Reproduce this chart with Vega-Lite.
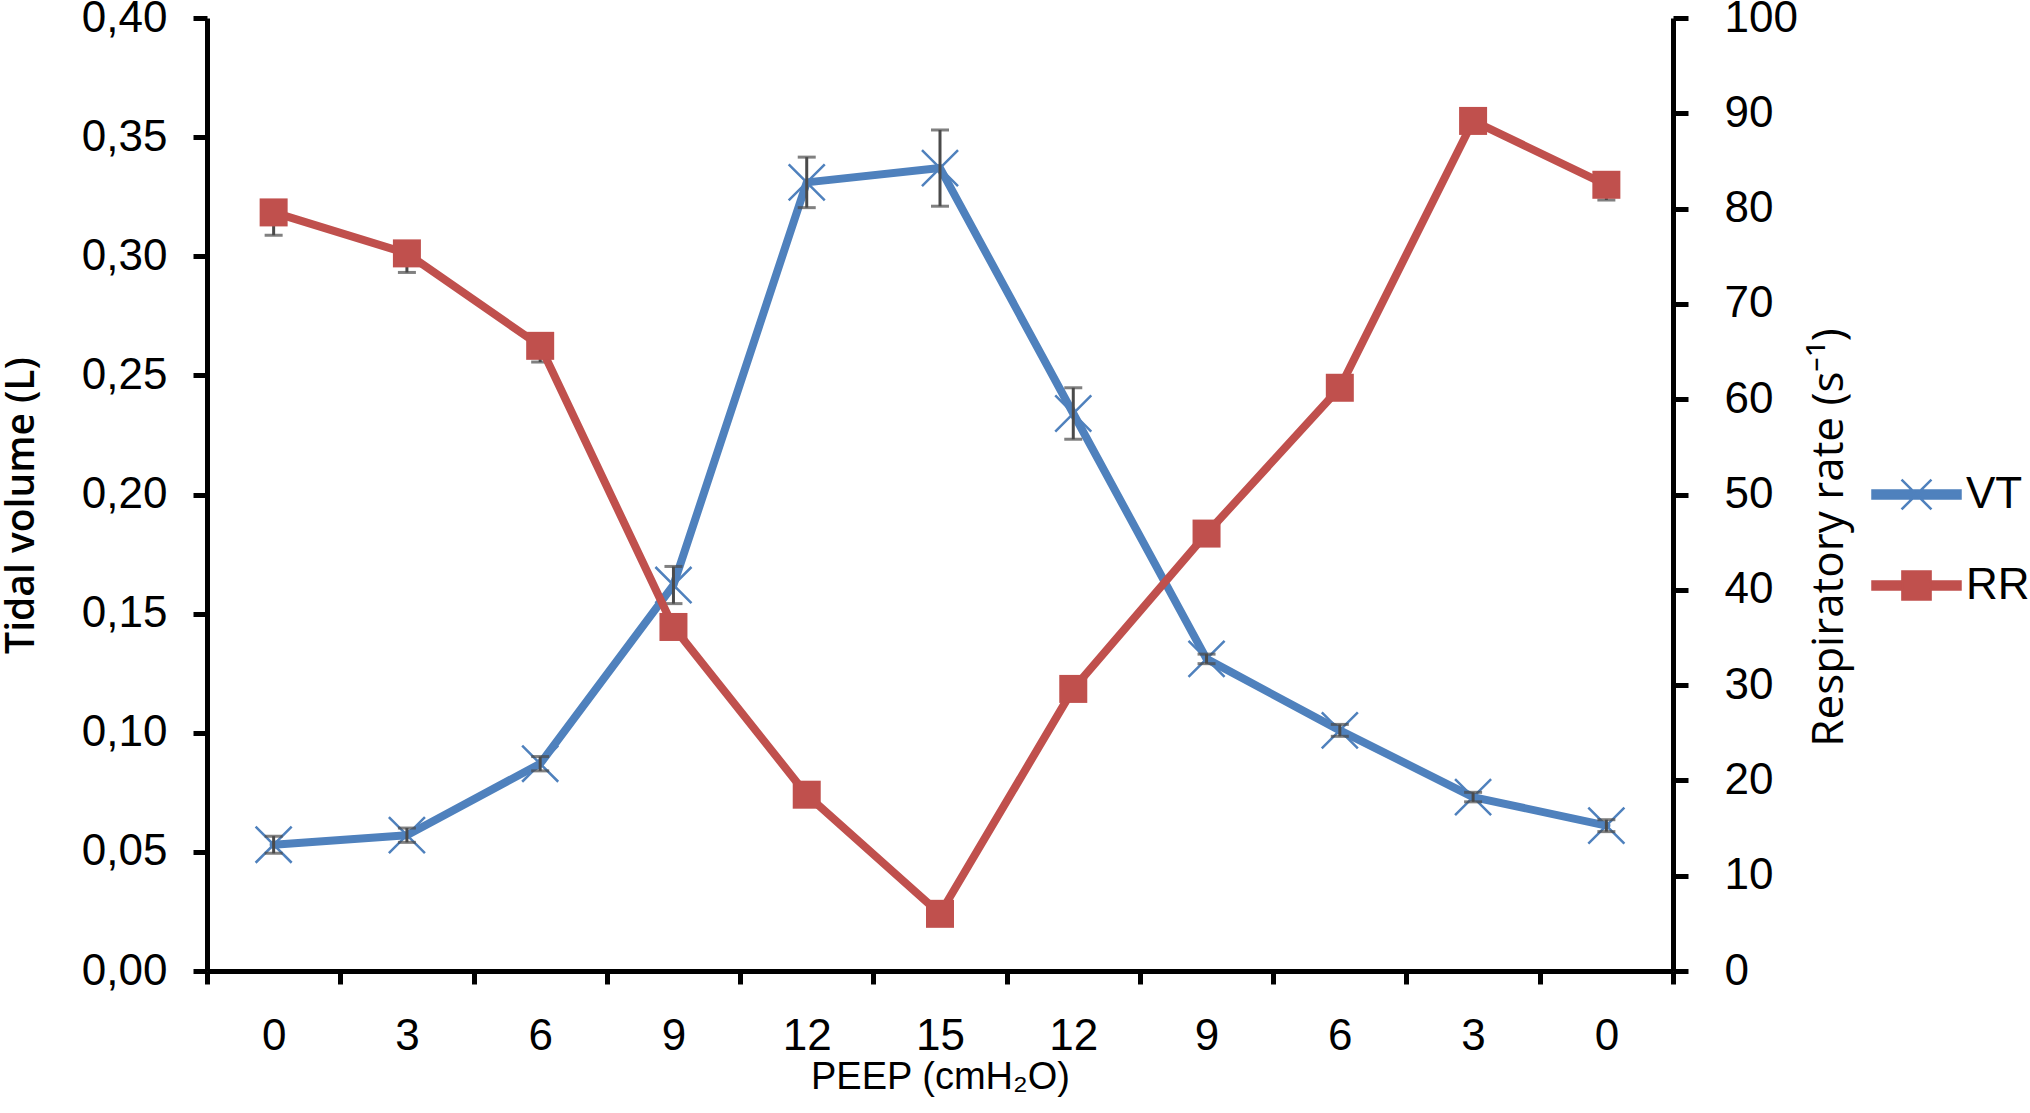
{
  "$schema": "https://vega.github.io/schema/vega-lite/v6.json",
  "width": 1466,
  "height": 953,
  "autosize": {"type": "none"},
  "padding": {"left": 207, "top": 18, "right": 357, "bottom": 142},
  "background": "white",
  "config": {
    "view": {"stroke": null},
    "axis": {
      "grid": false,
      "domainColor": "black",
      "domainWidth": 5,
      "tickColor": "black",
      "tickWidth": 5,
      "labelFont": "Liberation Sans",
      "labelFontSize": 44,
      "labelColor": "black",
      "titleColor": "black"
    }
  },
  "data": {
    "values": [
      {"step": 0, "peep": 0, "vt": 0.053, "vt_err": 0.0036, "rr": 79.6, "rr_lo": 77.2},
      {"step": 1, "peep": 3, "vt": 0.057, "vt_err": 0.003, "rr": 75.3, "rr_lo": 73.3},
      {"step": 2, "peep": 6, "vt": 0.087, "vt_err": 0.003, "rr": 65.6, "rr_lo": 63.9},
      {"step": 3, "peep": 9, "vt": 0.162, "vt_err": 0.0078, "rr": 36.1, "rr_lo": 34.9},
      {"step": 4, "peep": 12, "vt": 0.331, "vt_err": 0.0106, "rr": 18.5, "rr_lo": 17.5},
      {"step": 5, "peep": 15, "vt": 0.337, "vt_err": 0.016, "rr": 6.0, "rr_lo": 5.0},
      {"step": 6, "peep": 12, "vt": 0.234, "vt_err": 0.0108, "rr": 29.6, "rr_lo": 28.6},
      {"step": 7, "peep": 9, "vt": 0.131, "vt_err": 0.002, "rr": 45.9, "rr_lo": 44.9},
      {"step": 8, "peep": 6, "vt": 0.101, "vt_err": 0.0025, "rr": 61.2, "rr_lo": 60.2},
      {"step": 9, "peep": 3, "vt": 0.073, "vt_err": 0.002, "rr": 89.2, "rr_lo": 88.2},
      {"step": 10, "peep": 0, "vt": 0.061, "vt_err": 0.0025, "rr": 82.5, "rr_lo": 80.9}
    ]
  },
  "encoding": {
    "x": {
      "field": "step",
      "type": "ordinal",
      "scale": {"type": "band", "paddingInner": 0, "paddingOuter": 0},
      "axis": {
        "title": "PEEP (cmH₂O)",
        "labelExpr": "['0','3','6','9','12','15','12','9','6','3','0'][datum.value]",
        "labelAngle": 0,
        "tickBand": "extent",
        "tickSize": 13,
        "labelPadding": 30,
        "titleFont": "Liberation Sans",
        "titleFontSize": 38,
        "titleFontWeight": "normal",
        "titlePadding": 0
      }
    }
  },
  "layer": [
    {
      "encoding": {
        "y": {
          "field": "vt",
          "type": "quantitative",
          "scale": {"domain": [0, 0.4], "nice": false, "zero": true},
          "axis": {
            "orient": "left",
            "title": "Tidal volume (L)",
            "values": [0, 0.05, 0.1, 0.15, 0.2, 0.25, 0.3, 0.35, 0.4],
            "labelExpr": "replace(format(datum.value, '.2f'), '.', ',')",
            "tickSize": 14,
            "labelPadding": 26,
            "titleFont": "Open Sans",
            "titleFontSize": 39,
            "titleFontWeight": 600,
            "titlePadding": 40,
            "titleY": 487
          }
        }
      },
      "layer": [
        {
          "mark": {"type": "line", "strokeWidth": 8, "strokeJoin": "round", "strokeCap": "round"},
          "encoding": {
            "color": {
              "datum": "VT",
              "scale": {"domain": ["VT", "RR"], "range": ["#4F81BD", "#C0504D"]},
              "legend": {
                "orient": "none",
                "legendX": 1664,
                "legendY": 431,
                "title": null,
                "padding": 0,
                "symbolSize": 7744,
                "labelFont": "Liberation Sans",
                "labelFontSize": 44,
                "labelColor": "black",
                "labelOffset": 4,
                "rowPadding": 23,
                "labelBaseline": "middle",
                "encode": {
                  "symbols": {
                    "update": {
                      "shape": {"signal": "datum.value === 'VT' ? 'M-1,-0.09H1V0.09H-1Z M-0.34,-0.34L0.34,0.34 M-0.34,0.34L0.34,-0.34' : 'M-1,-0.09H1V0.09H-1Z M-0.32,-0.32H0.32V0.32H-0.32Z'"},
                      "fill": {"signal": "datum.value === 'VT' ? '#4F81BD' : '#C0504D'"},
                      "stroke": {"signal": "datum.value === 'VT' ? '#4F81BD' : '#C0504D'"},
                      "strokeWidth": {"value": 2.5},
                      "opacity": {"value": 1},
                      "fillOpacity": {"value": 1},
                      "strokeOpacity": {"value": 1}
                    }
                  }
                }
              }
            }
          }
        },
        {
          "mark": {"type": "point", "shape": "M-1,-1L1,1M-1,1L1,-1", "filled": false, "size": 1300, "strokeWidth": 2.5, "opacity": 1},
          "encoding": {"color": {"datum": "VT"}}
        },
        {
          "mark": {"type": "errorbar", "color": "#4a4a4a", "thickness": 3, "ticks": {"size": 18, "thickness": 3}},
          "encoding": {"yError": {"field": "vt_err"}}
        }
      ]
    },
    {
      "layer": [
        {
          "mark": {"type": "errorbar", "color": "#4a4a4a", "thickness": 3, "ticks": {"size": 18, "thickness": 3}},
          "encoding": {
            "y": {
              "field": "rr_lo",
              "type": "quantitative",
              "scale": {"domain": [0, 100], "nice": false, "zero": true},
              "axis": {
                "orient": "right",
                "title": "Respiratory rate (s⁻¹)",
                "values": [0, 10, 20, 30, 40, 50, 60, 70, 80, 90, 100],
                "tickSize": 15,
                "labelPadding": 36,
                "titleFont": "Open Sans",
                "titleFontSize": 44,
                "titleFontWeight": "normal",
                "titleAngle": 270,
                "titleBaseline": "top",
                "titlePadding": 10,
                "titleY": 519
              }
            },
            "y2": {"field": "rr"}
          }
        },
        {
          "mark": {"type": "line", "strokeWidth": 8, "strokeJoin": "round", "strokeCap": "round"},
          "encoding": {
            "y": {"field": "rr", "type": "quantitative", "title": "Respiratory rate (s⁻¹)"},
            "color": {"datum": "RR"}
          }
        },
        {
          "mark": {"type": "point", "shape": "square", "filled": true, "size": 784, "opacity": 1},
          "encoding": {
            "y": {"field": "rr", "type": "quantitative", "title": "Respiratory rate (s⁻¹)"},
            "color": {"datum": "RR"}
          }
        }
      ]
    }
  ],
  "resolve": {"scale": {"y": "independent"}, "axis": {"y": "independent"}}
}
